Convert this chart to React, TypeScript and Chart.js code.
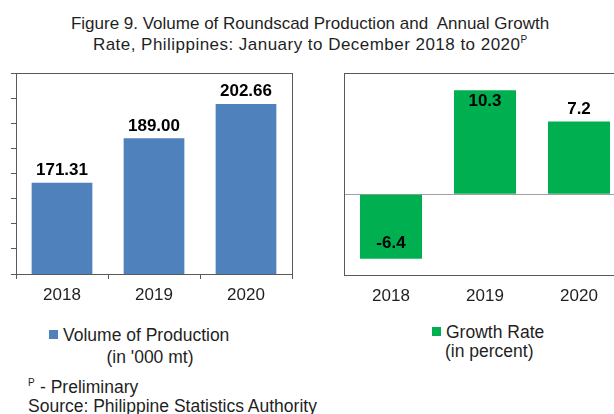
import React, { useEffect, useRef } from "react";
import { Chart, registerables } from "chart.js";

Chart.register(...registerables);

const years = ["2018", "2019", "2020"];
const volumeValues = [171.31, 189.0, 202.66];
const growthValues = [-6.4, 10.3, 7.2];
const volumeAxis = { min: 135, max: 215, step: 10 };
const growthAxis = { min: -8, max: 12, step: 4 };

const FONT = "'Liberation Sans', Arial, sans-serif";
const BLUE = "#4F81BD";
const GREEN = "#00B050";
const FRAME = "#595959";
const TEXT = "#1f1f1f";

const boxPlugin = {
  id: "boxFrame",
  afterDraw(chart: any) {
    const { ctx, chartArea } = chart;
    const l = Math.round(chartArea.left) + 0.5;
    const t = Math.round(chartArea.top) + 0.5;
    const r = Math.round(chartArea.right) + 0.5;
    const b = Math.round(chartArea.bottom) + 0.5;
    ctx.save();
    ctx.strokeStyle = FRAME;
    ctx.lineWidth = 1;
    ctx.strokeRect(l, t, r - l, b - t);
    ctx.restore();
  },
};

const valueLabelPlugin = {
  id: "valueLabels",
  afterDatasetsDraw(chart: any, _args: any, opts: any) {
    const { ctx } = chart;
    const meta = chart.getDatasetMeta(0);
    const data = chart.data.datasets[0].data as number[];
    ctx.save();
    ctx.font = `bold ${opts.size || 17}px ${FONT}`;
    ctx.fillStyle = "#000";
    ctx.textAlign = "center";
    ctx.textBaseline = "middle";
    meta.data.forEach((bar: any, i: number) => {
      const v = data[i];
      const place = (opts.placement && opts.placement[i]) || "outside";
      let y: number;
      if (v >= 0) {
        y = place === "outside" ? bar.y - opts.outsideGap : bar.y + opts.insideGap;
      } else {
        y = place === "outside" ? bar.y + opts.outsideGap : bar.y - opts.negInsideGap;
      }
      ctx.fillText(v.toFixed(opts.decimals), bar.x, y);
    });
    ctx.restore();
  },
};

function VolumeChart() {
  const ref = useRef<HTMLCanvasElement>(null);
  useEffect(() => {
    if (!ref.current) return;
    const chart = new Chart(ref.current, {
      type: "bar",
      data: {
        labels: years,
        datasets: [
          {
            label: "Volume of Production (in '000 mt)",
            data: volumeValues,
            backgroundColor: BLUE,
            borderWidth: 0,
            categoryPercentage: 1,
            barPercentage: 0.66,
          },
        ],
      },
      options: {
        animation: false,
        responsive: false,
        maintainAspectRatio: false,
        layout: { padding: { top: 13, left: 11, right: 28, bottom: 4.6 } },
        plugins: {
          legend: { display: false },
          title: { display: false },
          tooltip: { enabled: false },
          valueLabels: { decimals: 2, outsideGap: 12.5, insideGap: 11, negInsideGap: 16, size: 17 },
        } as any,
        scales: {
          x: {
            offset: true,
            border: { display: false },
            grid: { offset: true, drawOnChartArea: false, drawTicks: true, tickLength: 5, color: FRAME },
            ticks: { padding: 6, color: TEXT, font: { family: FONT, size: 17 } },
          },
          y: {
            min: volumeAxis.min,
            max: volumeAxis.max,
            border: { display: false },
            grid: { drawOnChartArea: false, drawTicks: true, tickLength: 5, color: FRAME },
            ticks: { display: false, stepSize: volumeAxis.step },
          },
        },
      },
      plugins: [boxPlugin, valueLabelPlugin],
    });
    return () => chart.destroy();
  }, []);
  return <canvas ref={ref} width={320} height={256} style={{ position: "absolute", left: 0, top: 60, width: 320, height: 256 }} />;
}

function GrowthChart() {
  const ref = useRef<HTMLCanvasElement>(null);
  useEffect(() => {
    if (!ref.current) return;
    const chart = new Chart(ref.current, {
      type: "bar",
      data: {
        labels: years,
        datasets: [
          {
            label: "Growth Rate (in percent)",
            data: growthValues,
            backgroundColor: GREEN,
            borderWidth: 0,
            categoryPercentage: 1,
            barPercentage: 0.66,
          },
        ],
      },
      options: {
        animation: false,
        responsive: false,
        maintainAspectRatio: false,
        layout: { padding: { top: 13, left: 24, right: 4, bottom: 3.6 } },
        plugins: {
          legend: { display: false },
          title: { display: false },
          tooltip: { enabled: false },
          valueLabels: {
            decimals: 1,
            outsideGap: 12.3,
            insideGap: 10.7,
            negInsideGap: 16,
            size: 17,
            placement: ["insideEnd", "insideEnd", "outside"],
          },
        } as any,
        scales: {
          x: {
            offset: true,
            border: { display: false },
            grid: { display: false, drawTicks: false },
            ticks: { padding: 11, color: TEXT, font: { family: FONT, size: 17 } },
          },
          y: {
            min: growthAxis.min,
            max: growthAxis.max,
            border: { display: false },
            grid: {
              drawOnChartArea: true,
              drawTicks: false,
              color: (c: any) => (c.tick && c.tick.value === 0 ? "#a0a0a0" : "rgba(0,0,0,0)"),
            },
            ticks: { display: false, stepSize: growthAxis.step },
          },
        },
      },
      plugins: [boxPlugin, valueLabelPlugin],
    });
    return () => chart.destroy();
  }, []);
  return <canvas ref={ref} width={310} height={261} style={{ position: "absolute", left: 320, top: 60, width: 310, height: 261 }} />;
}

const textBase: React.CSSProperties = {
  position: "absolute",
  fontFamily: FONT,
  fontSize: 17.5,
  lineHeight: "20px",
  color: TEXT,
  whiteSpace: "nowrap",
};

export default function App() {
  return (
    <div style={{ position: "absolute", left: 0, top: 0, width: 614, height: 414, overflow: "hidden", background: "#fff" }}>
      <VolumeChart />
      <GrowthChart />
      <div style={{ ...textBase, left: 0, top: 12.6, width: 620, textAlign: "center", fontSize: 17, lineHeight: "21px" }}>
        <div>Figure 9. Volume of Roundscad Production and&nbsp; Annual Growth</div>
        <div style={{ letterSpacing: 0.47 }}>
          Rate, Philippines: January to December 2018 to 2020
          <span style={{ fontSize: 10, position: "relative", top: -7, letterSpacing: 0 }}>P</span>
        </div>
      </div>
      <div style={{ position: "absolute", left: 49, top: 330, width: 9, height: 9, background: BLUE }} />
      <div style={{ ...textBase, left: 63, top: 324.6 }}>Volume of Production</div>
      <div style={{ ...textBase, left: 106.5, top: 346.6 }}>(in '000 mt)</div>
      <div style={{ position: "absolute", left: 432, top: 327, width: 9, height: 9, background: GREEN }} />
      <div style={{ ...textBase, left: 446, top: 321.6 }}>Growth Rate</div>
      <div style={{ ...textBase, left: 445, top: 340.6 }}>(in percent)</div>
      <div style={{ ...textBase, left: 28, top: 377, fontSize: 10, lineHeight: "12px" }}>P</div>
      <div style={{ ...textBase, left: 40, top: 376.6 }}>- Preliminary</div>
      <div style={{ ...textBase, left: 28, top: 395.6 }}>Source: Philippine Statistics Authority</div>
    </div>
  );
}
